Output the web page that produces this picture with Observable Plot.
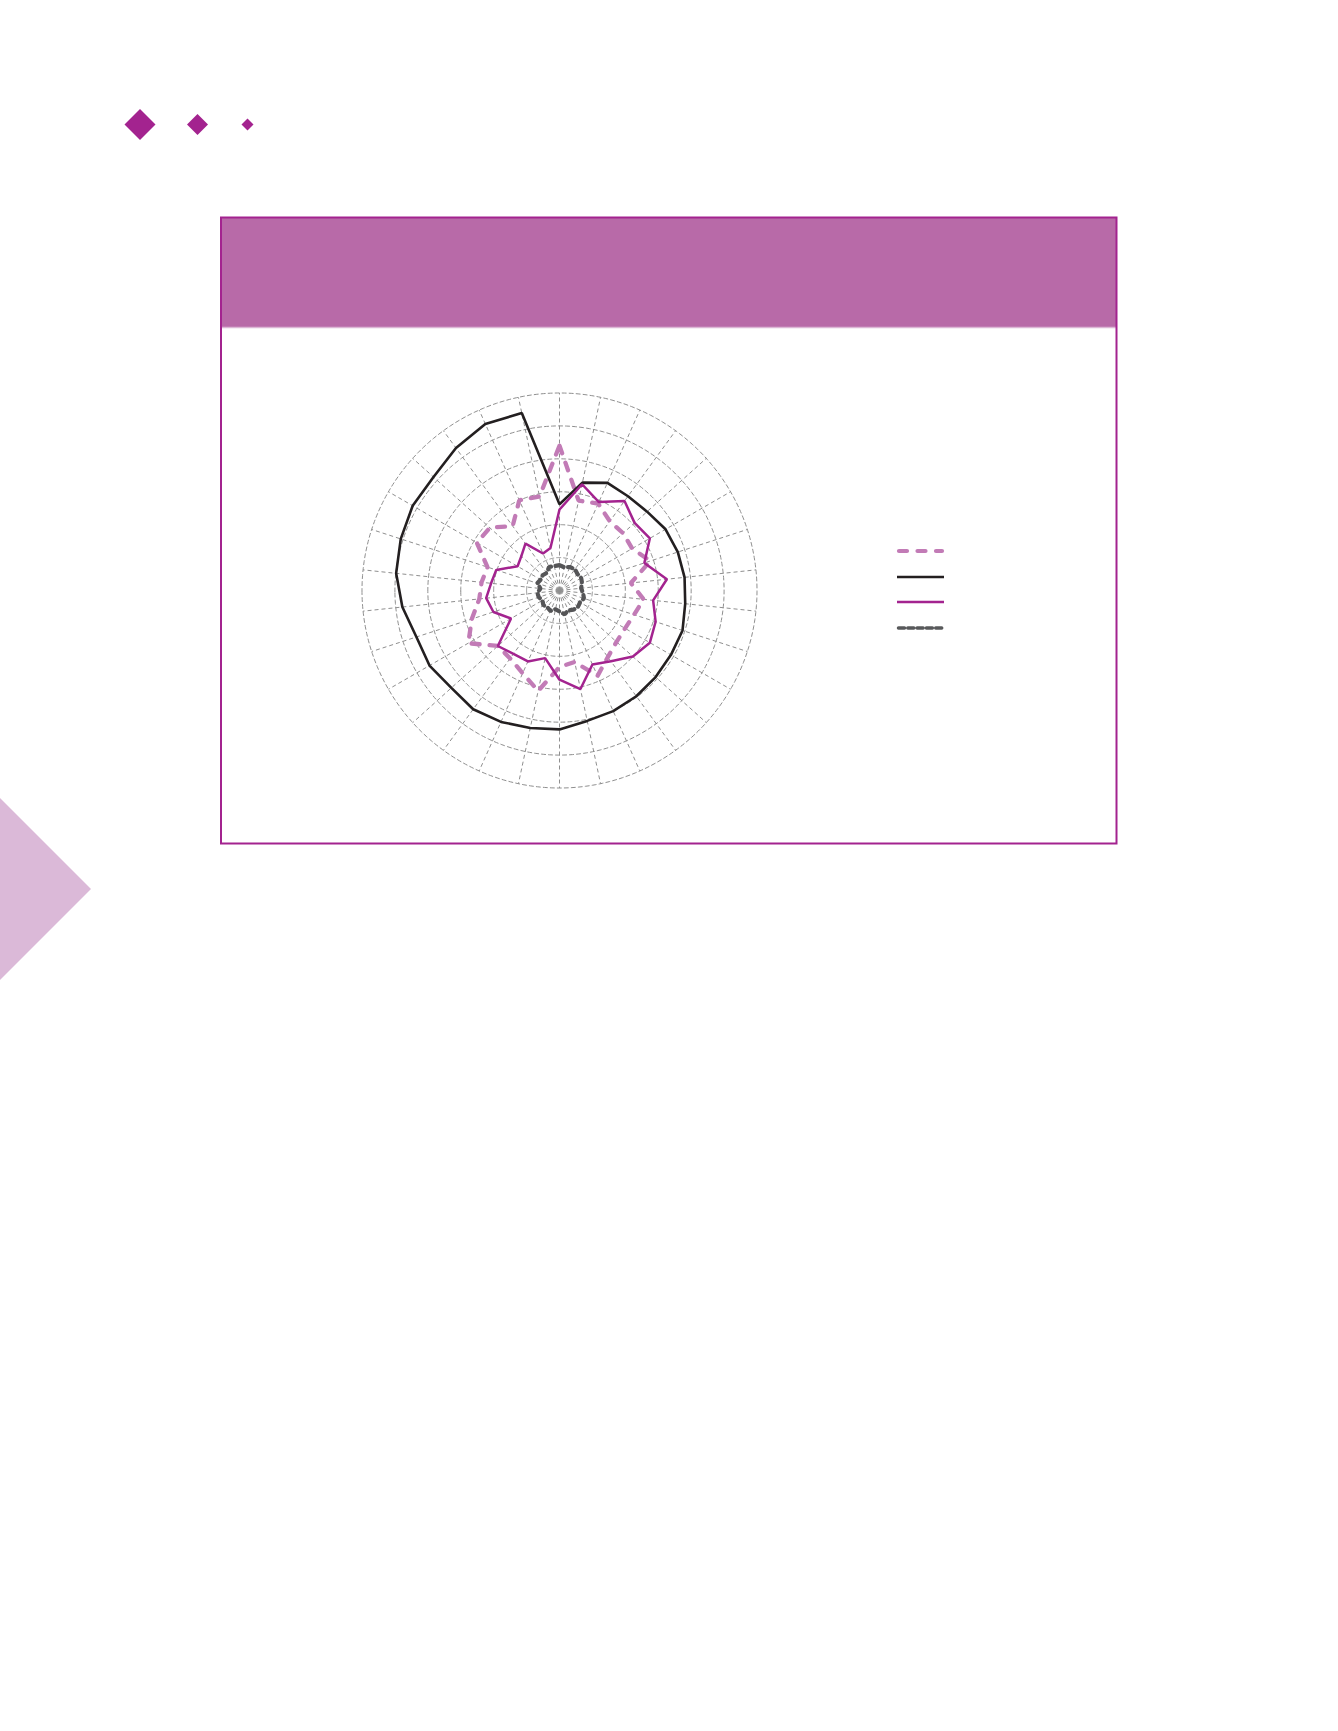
<!DOCTYPE html>
<html>
<head>
<meta charset="utf-8">
<script src="https://cdn.jsdelivr.net/npm/d3@7"></script>
<script src="https://cdn.jsdelivr.net/npm/@observablehq/plot@0.6"></script>
<style>
  html, body { margin: 0; padding: 0; background: #ffffff; }
  body { width: 1338px; height: 1731px; position: relative; overflow: hidden; font-family: "Noto Sans", sans-serif; }
  .abs { position: absolute; }
</style>
</head>
<body>
<svg class="abs" style="left:0;top:0" width="1338" height="1731">
  <!-- decorative diamonds -->
  <polygon points="140,109 155.5,124.5 140,140 124.5,124.5" fill="#a3238f"/>
  <polygon points="197.5,114 208,124.5 197.5,135 187,124.5" fill="#a3238f"/>
  <polygon points="247.5,118.5 253.5,124.5 247.5,130.5 241.5,124.5" fill="#a3238f"/>
  <!-- left triangle -->
  <polygon points="0,798 91,889 0,980" fill="#dbb9d8"/>
  <!-- frame + header band -->
  <rect x="221" y="218" width="895" height="109" fill="#b86aa8"/>
  <line x1="221" y1="327.5" x2="1116" y2="327.5" stroke="#dcb7d5" stroke-width="1.5"/>
  <rect x="221" y="217.5" width="895.5" height="626" fill="none" stroke="#a3238f" stroke-width="2"/>
</svg>

<div id="chart" class="abs" style="left:349px;top:380px;"></div>

<svg class="abs" style="left:890px;top:540px" width="70" height="100">
  <line x1="9" y1="11" x2="52" y2="11" stroke="#c27bb6" stroke-width="4.2" stroke-linecap="round" stroke-dasharray="8,10.5"/>
  <line x1="7" y1="37" x2="54" y2="37" stroke="#231f20" stroke-width="2.5"/>
  <line x1="7" y1="62" x2="54" y2="62" stroke="#a3238f" stroke-width="2.5"/>
  <line x1="8.5" y1="88" x2="53" y2="88" stroke="#58595b" stroke-width="3.5" stroke-linecap="round" stroke-dasharray="6,3.3"/>
</svg>

<script>
// 30 spokes, clockwise from the top
const spokes = ["1","2","3","4","5","6","7","8","9","10","11","12","13","14","15",
                "16","17","18","19","20","21","22","23","24","25","26","27","28","29","30"];
const ringLevels = [1, 2, 3, 4, 5, 6];

const pinkDashed = [4.40, 2.79, 2.89, 2.60, 2.60, 2.55, 2.90, 2.18, 2.57, 2.38,
                    2.30, 2.33, 2.50, 2.84, 2.22, 2.32, 3.12, 2.75, 2.55, 2.52,
                    3.20, 2.80, 2.45, 2.38, 2.30, 2.90, 2.85, 2.42, 3.00, 2.92];
const blackSolid = [2.62, 3.35, 3.58, 3.54, 3.58, 3.72, 3.78, 3.82, 3.84, 3.93,
                    3.91, 3.93, 3.97, 4.01, 4.05, 4.22, 4.27, 4.37, 4.46, 4.42,
                    4.56, 4.57, 4.80, 4.99, 5.07, 5.15, 5.15, 5.35, 5.54, 5.51];
const magentaSolid = [2.46, 3.30, 2.94, 3.36, 3.07, 3.17, 2.71, 3.28, 2.86, 3.07,
                      3.17, 3.00, 2.66, 2.46, 3.06, 2.71, 2.10, 2.36, 2.38, 2.52,
                      1.70, 2.11, 2.24, 2.09, 2.02, 1.47, 1.56, 1.76, 1.23, 1.32];
const greyDashed = [0.77, 0.72, 0.78, 0.80, 0.74, 0.76, 0.72, 0.66, 0.72, 0.78,
                    0.72, 0.75, 0.72, 0.66, 0.74, 0.64, 0.58, 0.68, 0.63, 0.66,
                    0.60, 0.66, 0.68, 0.58, 0.71, 0.66, 0.69, 0.66, 0.78, 0.76];

const K = 0.1; // degrees of arc per unit
const maxLevel = 6;
const lonOf = i => 180 - i * 360 / spokes.length;
const spokeRows = spokes.map((key, i) => ({key, i}));
const rowsOf = values => spokes.map((key, i) => ({key, i, value: values[i]}));

const seriesStyles = [
  {values: pinkDashed, stroke: "#c27bb6", strokeWidth: 4.3, strokeDasharray: "8,10", strokeLinecap: "round"},
  {values: blackSolid, stroke: "#231f20", strokeWidth: 2.6},
  {values: magentaSolid, stroke: "#a3238f", strokeWidth: 2.5},
  {values: greyDashed, stroke: "#555557", strokeWidth: 4.2, strokeDasharray: "4.5,4.5", strokeLinecap: "round"}
];

const chart = Plot.plot({
  width: 420,
  height: 420,
  margin: 0,
  style: {background: "transparent", overflow: "visible"},
  projection: {
    type: "azimuthal-equidistant",
    rotate: [0, -90],
    domain: d3.geoCircle().center([0, 90]).radius(maxLevel * K * 210 / 197.5)()
  },
  marks: [
    Plot.geo(ringLevels, {
      geometry: r => d3.geoCircle().center([0, 90]).radius(r * K).precision(1)(),
      fill: "none",
      stroke: "#8f8f8f",
      strokeWidth: 1,
      strokeDasharray: "4,3"
    }),
    Plot.link(spokeRows, {
      x1: d => lonOf(d.i), y1: 90,
      x2: d => lonOf(d.i), y2: 90 - maxLevel * K,
      curve: "linear",
      stroke: "#8f8f8f",
      strokeWidth: 1,
      strokeDasharray: "4,3"
    }),
    ...seriesStyles.map(s => Plot.line(rowsOf(s.values), {
      x: d => lonOf(d.i),
      y: d => 90 - d.value * K,
      curve: "linear-closed",
      stroke: s.stroke,
      strokeWidth: s.strokeWidth,
      strokeDasharray: s.strokeDasharray,
      strokeLinecap: s.strokeLinecap || "butt",
      strokeLinejoin: "miter"
    }))
  ]
});
document.getElementById("chart").appendChild(chart);
</script>
</body>
</html>
